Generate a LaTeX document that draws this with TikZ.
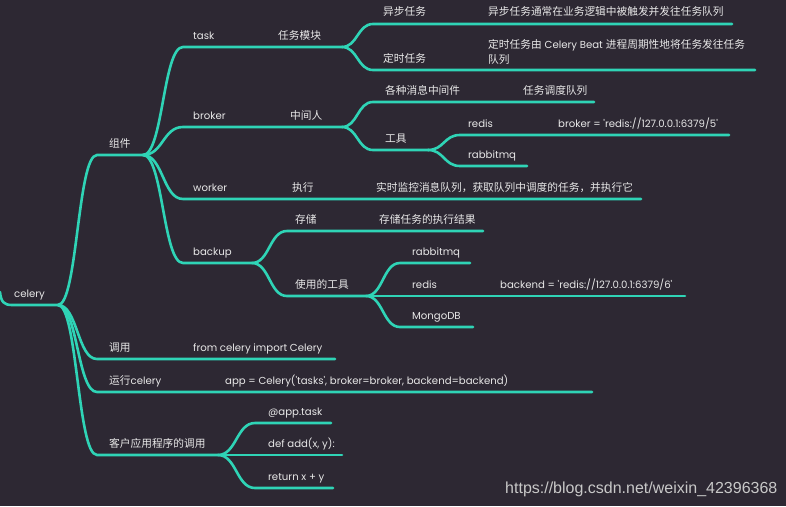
\documentclass[tikz,border=0pt]{standalone}
\usepackage{fontspec}
\setmainfont{Poppins}
\newfontfamily\cjk{Noto Sans CJK SC}
\newfontfamily\wmfont{Liberation Sans}
\newcommand\cjtext[1]{{\cjk\fontsize{10.7}{12}\selectfont #1}}
\usetikzlibrary{calc}
\definecolor{bgc}{HTML}{2D2833}
\definecolor{tealc}{HTML}{2FD4B6}
\definecolor{txtc}{HTML}{E8E8E8}
\definecolor{wmc}{HTML}{C8C8C8}
\tikzset{
  br/.style={line width=2.6pt, draw=tealc, line cap=round},
  sbend/.style={to path={let \p1=(\tikztostart), \p2=(\tikztotarget), \n1={0.5*(\x2-\x1)} in .. controls +(\n1,0) and +(-\n1,0) .. (\tikztotarget)}},
  lt/.style={anchor=base west, inner sep=0pt, text=txtc, font=\fontsize{10.15}{12}\selectfont},
  ct/.style={anchor=base west, inner sep=0pt, text=txtc, font=\cjk\fontsize{10.7}{12}\selectfont},
}
\begin{document}
\begin{tikzpicture}[x=1pt,y=-1pt]
\path[use as bounding box, fill=bgc] (0,0) rectangle (786,506);

% coordinates
\coordinate (rt) at (0,292);
\coordinate (r1) at (12,305);
\coordinate (rE) at (58,305);
\coordinate (zj0) at (97,155);   \coordinate (zjE) at (143,155);
\coordinate (tk0) at (183,47);   \coordinate (tkE) at (342,47);
\coordinate (ay0) at (373,24);   \coordinate (ayE) at (732,24);
\coordinate (ds0) at (373,70);   \coordinate (dsE) at (755,70);
\coordinate (bk0) at (183,127);  \coordinate (bkE) at (342,127);
\coordinate (gz0) at (373,102);  \coordinate (gzE) at (594,102);
\coordinate (gj0) at (373,150);  \coordinate (gjE) at (428,150);
\coordinate (rd0) at (460,135);  \coordinate (rdE) at (729,135);
\coordinate (rb0) at (460,166);  \coordinate (rbE) at (527,166);
\coordinate (wk0) at (183,199);  \coordinate (wkE) at (641,199);
\coordinate (bu0) at (183,263);  \coordinate (buE) at (252,263);
\coordinate (cc0) at (287,231);  \coordinate (ccE) at (483,231);
\coordinate (sy0) at (287,296);  \coordinate (syE) at (366,296);
\coordinate (rbb0) at (400,263); \coordinate (rbbE) at (470,263);
\coordinate (rdd0) at (400,296); \coordinate (rddE) at (685,296);
\coordinate (mg0) at (400,327);  \coordinate (mgE) at (473,327);
\coordinate (dy0) at (97,359);   \coordinate (dyE) at (335,359);
\coordinate (yx0) at (97,392);   \coordinate (yxE) at (592,392);
\coordinate (kh0) at (97,455);   \coordinate (khE) at (218,455);
\coordinate (ap0) at (255,423);  \coordinate (apE) at (331,423);
\coordinate (df0) at (255,455);  \coordinate (dfE) at (342,455);
\coordinate (re0) at (255,488);  \coordinate (reE) at (333,488);

% connectors and underlines
\draw[br] (rt) .. controls (1,302) and (4,305) .. (r1) -- (rE);
\draw[br] (rE) to[sbend] (zj0) -- (zjE);
\draw[br] (zjE) to[sbend] (tk0) -- (tkE);
\draw[br] (tkE) to[sbend] (ay0) -- (ayE);
\draw[br] (tkE) to[sbend] (ds0) -- (dsE);
\draw[br] (zjE) to[sbend] (bk0) -- (bkE);
\draw[br] (bkE) to[sbend] (gz0) -- (gzE);
\draw[br] (bkE) to[sbend] (gj0) -- (gjE);
\draw[br] (gjE) to[sbend] (rd0) -- (rdE);
\draw[br] (gjE) to[sbend] (rb0) -- (rbE);
\draw[br] (zjE) to[sbend] (wk0) -- (wkE);
\draw[br] (zjE) to[sbend] (bu0) -- (buE);
\draw[br] (buE) to[sbend] (cc0) -- (ccE);
\draw[br] (buE) to[sbend] (sy0) -- (syE);
\draw[br] (syE) to[sbend] (rbb0) -- (rbbE);
\draw[br] (syE) to[sbend] (rdd0) -- (rddE);
\draw[br] (syE) to[sbend] (mg0) -- (mgE);
\draw[br] (rE) to[sbend] (dy0) -- (dyE);
\draw[br] (rE) to[sbend] (yx0) -- (yxE);
\draw[br] (rE) to[sbend] (kh0) -- (khE);
\draw[br] (khE) to[sbend] (ap0) -- (apE);
\draw[br] (khE) -- (df0) -- (dfE);
\draw[br] (khE) to[sbend] (re0) -- (reE);

% texts
\node[lt] (t-celery) at (14,297) {celery};
\node[ct] (t-zj) at (109,147) {组件};
\node[lt] (t-task) at (193,39) {task};
\node[ct] (t-tkm) at (278,39) {任务模块};
\node[ct] (t-ay) at (383,16) {异步任务};
\node[ct] (t-ayd) at (488,16) {异步任务通常在业务逻辑中被触发并发往任务队列};
\node[ct] (t-ds) at (383,62) {定时任务};
\node[lt] (t-dsd1) at (488,48) {\cjtext{定时任务由}\hspace{3pt}Celery Beat\hspace{3pt}\cjtext{进程周期性地将任务发往任务}};
\node[ct] (t-dsd2) at (488,63) {队列};
\node[lt] (t-broker) at (193,119) {broker};
\node[ct] (t-zjr) at (290,119) {中间人};
\node[ct] (t-gz) at (385,94) {各种消息中间件};
\node[ct] (t-gzd) at (523,94) {任务调度队列};
\node[ct] (t-gj) at (385,142) {工具};
\node[lt] (t-rd) at (468,127) {redis};
\node[lt] (t-rdd) at (558,127) {broker = \textquotesingle redis://127.0.0.1:6379/5\textquotesingle};
\node[lt] (t-rb) at (468,158) {rabbitmq};
\node[lt] (t-wk) at (193,191) {worker};
\node[ct] (t-zx) at (292,191) {执行};
\node[ct] (t-wkd) at (376,191) {实时监控消息队列，获取队列中调度的任务，并执行它};
\node[lt] (t-bu) at (193,255) {backup};
\node[ct] (t-cc) at (295,223) {存储};
\node[ct] (t-ccd) at (379,223) {存储任务的执行结果};
\node[ct] (t-sy) at (295,288) {使用的工具};
\node[lt] (t-rbb) at (412,255) {rabbitmq};
\node[lt] (t-rdd2) at (412,288) {redis};
\node[lt] (t-rddd) at (500,288) {backend = \textquotesingle redis://127.0.0.1:6379/6\textquotesingle};
\node[lt] (t-mg) at (412,319) {MongoDB};
\node[ct] (t-dy) at (109,351) {调用};
\node[lt] (t-dyd) at (193,351) {from celery import Celery};
\node[lt] (t-yx) at (109,384) {\cjtext{运行}celery};
\node[lt] (t-yxd) at (225,384) {app = Celery(\textquotesingle tasks\textquotesingle, broker=broker, backend=backend)};
\node[ct] (t-kh) at (109,447) {客户应用程序的调用};
\node[lt] (t-ap) at (268,415) {@app.task};
\node[lt] (t-df) at (268,447) {def add(x, y):};
\node[lt] (t-re) at (268,480) {return x + y};
\node[anchor=base west, inner sep=0pt, text=wmc, font=\wmfont\fontsize{16}{18}\selectfont] (t-wm) at (505,493) {https://blog.csdn.net/weixin\_42396368};
\end{tikzpicture}
\end{document}
